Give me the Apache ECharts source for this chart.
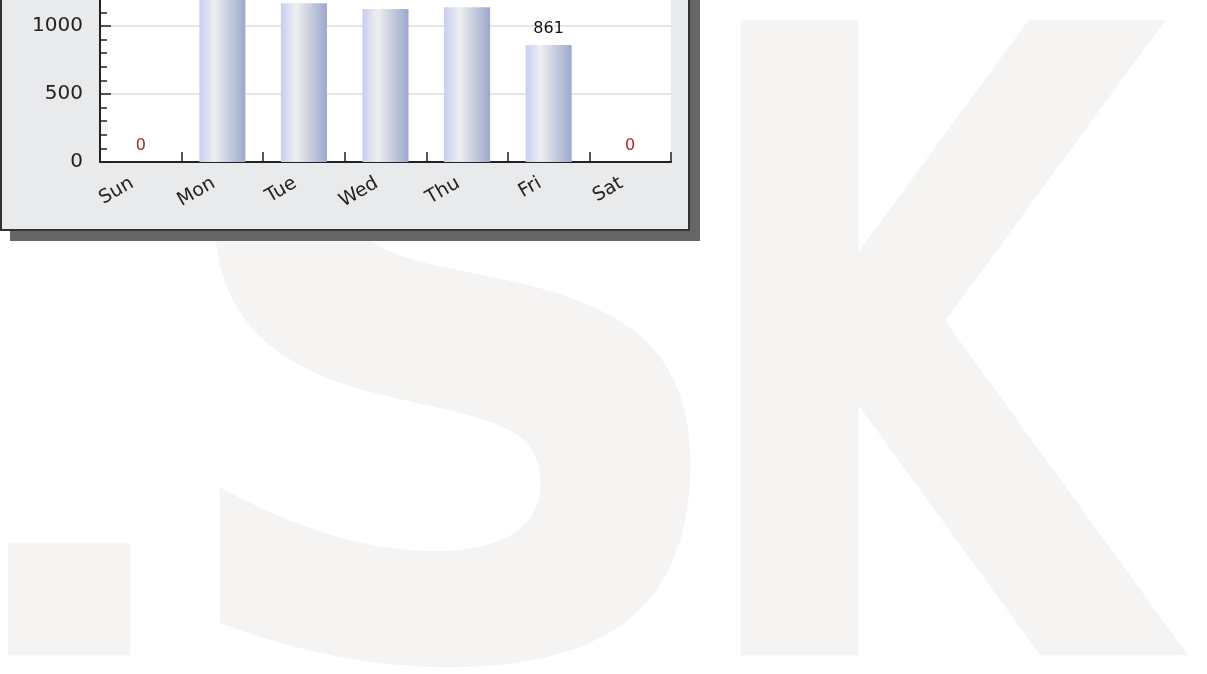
<!DOCTYPE html>
<html>
<head>
<meta charset="utf-8">
<script src="https://cdn.jsdelivr.net/npm/echarts@6/dist/echarts.min.js"></script>
<style>
html,body{margin:0;padding:0;background:#fff;overflow:hidden;width:1207px;height:674px;position:relative;}
#chart{position:absolute;left:0;top:-300px;width:1207px;height:974px;}
</style>
</head>
<body>
<div id="chart"></div>
<script>
var days = ['Sun', 'Mon', 'Tue', 'Wed', 'Thu', 'Fri', 'Sat'];
var hits = [0, 1350, 1167, 1125, 1138, 861, 0];
var yMin = 0, yMax = 1500, yStep = 500;
var watermark = ['.', 'S', 'K'];

var FONT = '"DejaVu Sans", Verdana, sans-serif';
var chart = echarts.init(document.getElementById('chart'), null, {renderer: 'canvas'});

var wmColor = '#f5f4f2';
function wm(ch, cx, sx, sy) {
  return {
    type: 'text', z: -10, x: cx, y: 729, scaleX: sx, scaleY: sy, originX: 0, originY: 226,
    silent: true,
    style: {text: ch, fill: wmColor, font: 'bold 871px "DejaVu Sans"', textAlign: 'center', textVerticalAlign: 'middle'}
  };
}

var option = {
  animation: false,
  backgroundColor: '#ffffff',
  graphic: [
    wm(watermark[0], 69, 0.8, 0.68),
    wm(watermark[1], 453, 0.95, 0.98),
    wm(watermark[2], 926, 0.72, 1),
    {type: 'rect', z: -5, silent: true, shape: {x: 10, y: 70, width: 690, height: 471}, style: {fill: '#666666'}},
    {type: 'rect', z: -4, silent: true, shape: {x: 1, y: 60, width: 688, height: 470}, style: {fill: '#e9eaec', stroke: '#333333', lineWidth: 2}}
  ],
  grid: {left: 100, right: 536, top: 258, bottom: 512, show: true, backgroundColor: '#ffffff', borderWidth: 0},
  xAxis: {
    type: 'category', data: days, boundaryGap: true,
    axisLine: {show: true, lineStyle: {color: '#222', width: 2}},
    axisTick: {show: true, inside: true, length: 10, lineStyle: {color: '#222', width: 1.5}},
    axisLabel: {rotate: 30, interval: 0, margin: 15, padding: [0, 10, 0, 0], fontSize: 19, color: '#222', fontFamily: FONT},
    splitLine: {show: false}
  },
  yAxis: {
    type: 'value', min: yMin, max: yMax, interval: yStep,
    axisLine: {show: true, lineStyle: {color: '#222', width: 2}},
    axisTick: {show: true, inside: true, length: 11, lineStyle: {color: '#222', width: 1.5}},
    minorTick: {show: true, splitNumber: 5, length: 7, lineStyle: {color: '#222', width: 1.5}},
    axisLabel: {margin: 17, fontSize: 20, color: '#222', fontFamily: FONT, padding: [4, 0, 0, 0], formatter: function (v) { return String(v); }},
    splitLine: {show: true, lineStyle: {color: '#dcdcdc', width: 1.5}},
    minorSplitLine: {show: false}
  },
  series: [{
    type: 'bar',
    barWidth: 46,
    data: hits.map(function (v) {
      return {value: v, label: {color: v === 0 ? '#b02828' : '#111'}};
    }),
    itemStyle: {
      color: new echarts.graphic.LinearGradient(0, 0, 1, 0, [
        {offset: 0, color: '#c6cef3'},
        {offset: 0.33, color: '#efefef'},
        {offset: 1, color: '#9ba7cc'}
      ])
    },
    label: {show: true, position: 'top', distance: 8, fontSize: 16, fontFamily: FONT}
  }]
};
chart.setOption(option);
</script>
</body>
</html>
